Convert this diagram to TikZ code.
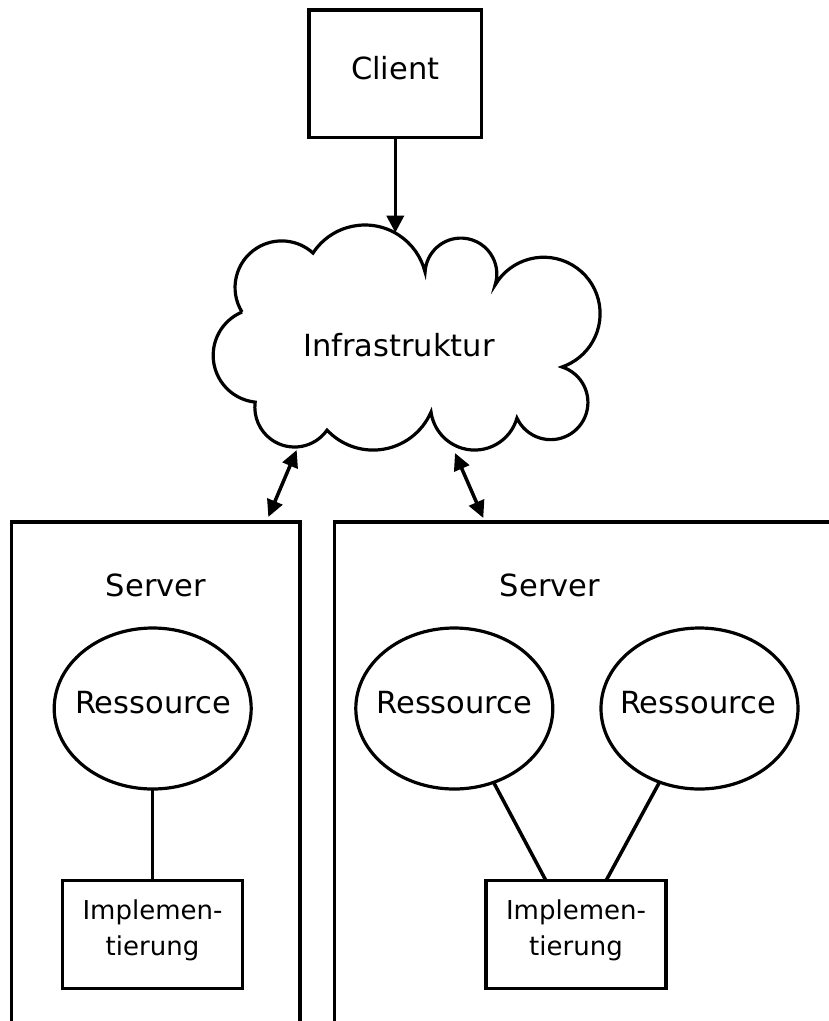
\documentclass[tikz,border=0pt]{standalone}
\usepackage{fontspec}
\setmainfont{DejaVu Sans}
\usetikzlibrary{arrows.meta,shapes.geometric}
\begin{document}
\begin{tikzpicture}[x=1pt,y=1pt,yscale=-1,
  line width=3.5pt,
  every node/.style={inner sep=0pt, outer sep=0pt},
  lbl/.style={font=\fontsize{30.5}{36}\selectfont, anchor=base},
  smalllbl/.style={font=\fontsize{26}{35.7}\selectfont, align=center},
  box/.style={draw, rectangle},
  res/.style={draw, ellipse, line width=3.2pt, minimum width=197pt, minimum height=161pt},
  tip/.style={-{Triangle[length=17pt,width=17pt]}},
  bitip/.style={{Triangle[length=17pt,width=16pt]}-{Triangle[length=17pt,width=16pt]}},
]
\useasboundingbox (0,0) rectangle (829,1021);

% client
\node[box, minimum width=172.7pt, minimum height=127.3pt] (client) at (395.3,73.7) {};
\node[lbl] (clienttext) at (395.3,79) {Client};

% cloud outline, one arc per puff
\draw[line width=3.2pt] (242,312)
  arc[start angle=148.3, end angle=312.3, radius=46.6pt]
  arc[start angle=213.2, end angle=346.1, radius=62pt]
  arc[start angle=183, end angle=378, radius=35.9pt]
  arc[start angle=210.4, end angle=431.1, radius=56.4pt]
  arc[start angle=-72.4, end angle=155.2, radius=37.2pt]
  arc[start angle=15.8, end angle=172.2, radius=44pt]
  arc[start angle=23.4, end angle=136.9, radius=63.1pt]
  arc[start angle=35, end angle=187.5, radius=39.7pt]
  arc[start angle=96.1, end angle=247.4, radius=47pt];
\node[lbl] (infra) at (399,356.5) {Infrastruktur};

\coordinate (cloudtop) at (395.3,232.7);
\draw[tip] (client) -- (cloudtop);

% server frames, open towards the page edges
\draw (11.7,1030) -- (11.7,522) -- (300,522) -- (300,1030);
\draw (334.7,1030) -- (334.7,522) -- (840,522);

\coordinate (cloudL) at (296.7,450);
\coordinate (serverL) at (268.3,517);
\coordinate (cloudR) at (455,453);
\coordinate (serverR) at (483.3,518);
\draw[bitip] (cloudL) -- (serverL);
\draw[bitip] (cloudR) -- (serverR);

\node[lbl] (srv1) at (156,596.7) {Server};
\node[lbl] (srv2) at (550,596.7) {Server};

% resources
\node[res] (res1) at (152.7,708.5) {};
\node[lbl] (res1text) at (153,713.3) {Ressource};
\node[res] (res2) at (454.3,708.5) {};
\node[lbl] (res2text) at (454.3,713) {Ressource};
\node[res] (res3) at (699.5,708.5) {};
\node[lbl] (res3text) at (698,713) {Ressource};

% implementations
\node[box, minimum width=180pt, minimum height=107.6pt] (impl1) at (152.7,934.5) {};
\node[smalllbl] (impl1text) at (152.5,930.3) {Implemen-\\tierung};
\node[box, minimum width=180pt, minimum height=107.6pt] (impl2) at (576,934.5) {};
\node[smalllbl] (impl2text) at (576,930.3) {Implemen-\\tierung};

\draw (res1) -- (impl1);
\draw (res2) -- ([xshift=-30pt]impl2.north);
\draw (res3) -- ([xshift=30pt]impl2.north);
\end{tikzpicture}
\end{document}
